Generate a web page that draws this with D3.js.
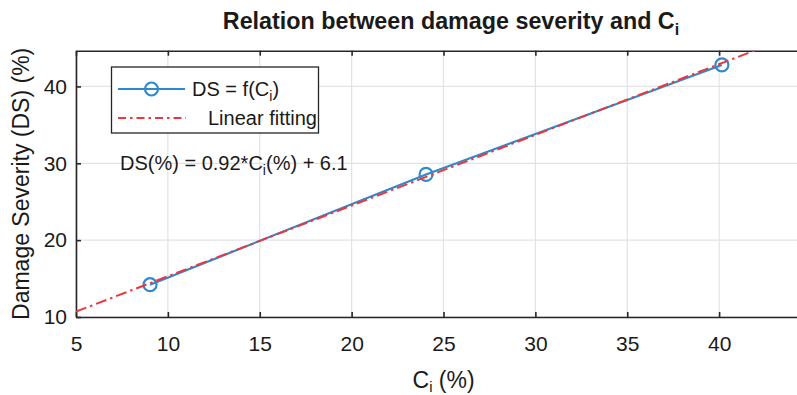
<!DOCTYPE html>
<html>
<head>
<meta charset="utf-8">
<script src="https://cdn.jsdelivr.net/npm/d3@7"></script>
<style>
    body { margin: 0; background: #fff; }
    svg { display: block; }
    text { font-family: "Liberation Sans", Arial, Helvetica, sans-serif; fill: #1a1a1a; }
</style>
</head>
<body>
<div id="chart"></div>
<script>
// measured points DS = f(Ci)
const ciValues = [9.03, 24.05, 40.15];
const dsValues = [14.2, 28.55, 42.8];

// linear fit line end points, DS(%) = 0.92*Ci(%) + 6.1
const fitCi = [5, 45];
const fitDs = [10.7, 47.5];

const xTicks = [5, 10, 15, 20, 25, 30, 35, 40, 45];
const yTicks = [10, 20, 30, 40];
const xDomain = [5, 45];
const yDomain = [10, 44.65];

const width = 797, height = 395;
const margin = { left: 76, top: 50.7, right: 811, bottom: 317 };

const blue = "#3189cc";
const red = "#e9383e";
const axisColor = "#262626";

const x = d3.scaleLinear().domain(xDomain).range([margin.left, margin.right]);
const y = d3.scaleLinear().domain(yDomain).range([margin.bottom, margin.top]);

const svg = d3.select("#chart").append("svg")
    .attr("width", width)
    .attr("height", height);

svg.append("defs").append("clipPath").attr("id", "plotArea")
    .append("rect")
        .attr("x", margin.left)
        .attr("y", margin.top)
        .attr("width", margin.right - margin.left)
        .attr("height", margin.bottom - margin.top);

// grid
svg.append("g")
    .attr("class", "grid")
    .selectAll("line.gx")
    .data(xTicks)
    .enter().append("line")
        .attr("x1", d => x(d)).attr("x2", d => x(d))
        .attr("y1", margin.top).attr("y2", margin.bottom)
        .style("stroke", "#e3e3e3")
        .style("stroke-width", 1.2);

svg.select("g.grid")
    .selectAll("line.gy")
    .data(yTicks)
    .enter().append("line")
        .attr("x1", margin.left).attr("x2", margin.right)
        .attr("y1", d => y(d)).attr("y2", d => y(d))
        .style("stroke", "#e3e3e3")
        .style("stroke-width", 1.2);

// axes (ticks pointing inward)
const styleAxis = g => {
    g.select(".domain").style("stroke", axisColor).style("stroke-width", 1.6);
    g.selectAll(".tick line").style("stroke", axisColor).style("stroke-width", 1.6);
    g.attr("font-size", 21).attr("font-family", null);
    g.selectAll("text").style("fill", "#1a1a1a");
};

svg.append("g")
    .attr("class", "x axis")
    .attr("transform", `translate(0, ${margin.bottom})`)
    .call(d3.axisBottom(x).tickValues(xTicks.slice(0, -1)).tickSizeInner(-5).tickSizeOuter(0).tickPadding(19.5))
    .call(styleAxis);

svg.append("g")
    .attr("class", "x axis top")
    .attr("transform", `translate(0, ${margin.top})`)
    .call(d3.axisTop(x).tickValues(xTicks.slice(0, -1)).tickSizeInner(-5).tickSizeOuter(0).tickFormat(""))
    .call(styleAxis);

svg.append("g")
    .attr("class", "y axis")
    .attr("transform", `translate(${margin.left}, 0)`)
    .call(d3.axisLeft(y).tickValues(yTicks).tickSizeInner(-5).tickSizeOuter(0).tickPadding(9))
    .call(styleAxis);

svg.append("g")
    .attr("class", "y axis right")
    .attr("transform", `translate(${margin.right}, 0)`)
    .call(d3.axisRight(y).tickValues(yTicks).tickSizeInner(-5).tickSizeOuter(0).tickFormat(""))
    .call(styleAxis);

// data line + markers
const line = d3.line().x(d => x(d[0])).y(d => y(d[1]));
const points = ciValues.map((c, i) => [c, dsValues[i]]);

const plot = svg.append("g").attr("clip-path", "url(#plotArea)");

plot.append("path")
    .datum(points)
    .attr("d", line)
    .style("fill", "none")
    .style("stroke", blue)
    .style("stroke-width", 2.2);

plot.selectAll("circle.pt")
    .data(points)
    .enter().append("circle")
        .attr("class", "pt")
        .attr("cx", d => x(d[0]))
        .attr("cy", d => y(d[1]))
        .attr("r", 6.5)
        .style("fill", "none")
        .style("stroke", blue)
        .style("stroke-width", 2.2);

// linear fitting
plot.append("path")
    .datum(fitCi.map((c, i) => [c, fitDs[i]]))
    .attr("d", line)
    .style("fill", "none")
    .style("stroke", red)
    .style("stroke-width", 2)
    .style("stroke-dasharray", "11,4,2.5,4");

// legend
const legend = svg.append("g").attr("class", "legend");

legend.append("rect")
    .attr("x", 111.5).attr("y", 67)
    .attr("width", 207).attr("height", 66)
    .style("fill", "#fff")
    .style("stroke", axisColor)
    .style("stroke-width", 1.3);

legend.append("line")
    .attr("x1", 118).attr("x2", 185).attr("y1", 89).attr("y2", 89)
    .style("stroke", blue).style("stroke-width", 2.2);
legend.append("circle")
    .attr("cx", 151.5).attr("cy", 89).attr("r", 6.5)
    .style("fill", "none").style("stroke", blue).style("stroke-width", 2.2);

const l1 = legend.append("text").attr("x", 192).attr("y", 96).attr("font-size", 20).text("DS = f(C");
l1.append("tspan").attr("font-size", 14).attr("dy", 5).text("i");
l1.append("tspan").attr("dy", -5).text(")");

legend.append("line")
    .attr("x1", 118).attr("x2", 186).attr("y1", 118).attr("y2", 118)
    .style("stroke", red).style("stroke-width", 2)
    .style("stroke-dasharray", "8,4,2.5,4");

legend.append("text").attr("x", 208).attr("y", 125).attr("font-size", 20).text("Linear fitting");

// fit equation
const eq = svg.append("text").attr("x", 120).attr("y", 170).attr("font-size", 20).text("DS(%) = 0.92*C");
eq.append("tspan").attr("font-size", 14).attr("dy", 5).text("i");
eq.append("tspan").attr("dy", -5).text("(%) + 6.1");

// title
const title = svg.append("text")
    .attr("x", 451).attr("y", 29)
    .attr("text-anchor", "middle")
    .attr("font-size", 23.3)
    .attr("font-weight", "bold")
    .text("Relation between damage severity and C");
title.append("tspan").attr("font-size", 16).attr("dy", 6).text("i");

// axis labels
const xl = svg.append("text")
    .attr("x", 412.5).attr("y", 388)
    .attr("font-size", 23)
    .text("C");
xl.append("tspan").attr("font-size", 15).attr("dy", 4).text("i");
xl.append("tspan").attr("dy", -4).text(" (%)");

svg.append("text")
    .attr("transform", `translate(29, ${(margin.top + margin.bottom) / 2}) rotate(-90)`)
    .attr("text-anchor", "middle")
    .attr("font-size", 23)
    .text("Damage Severity (DS) (%)");
</script>
</body>
</html>
